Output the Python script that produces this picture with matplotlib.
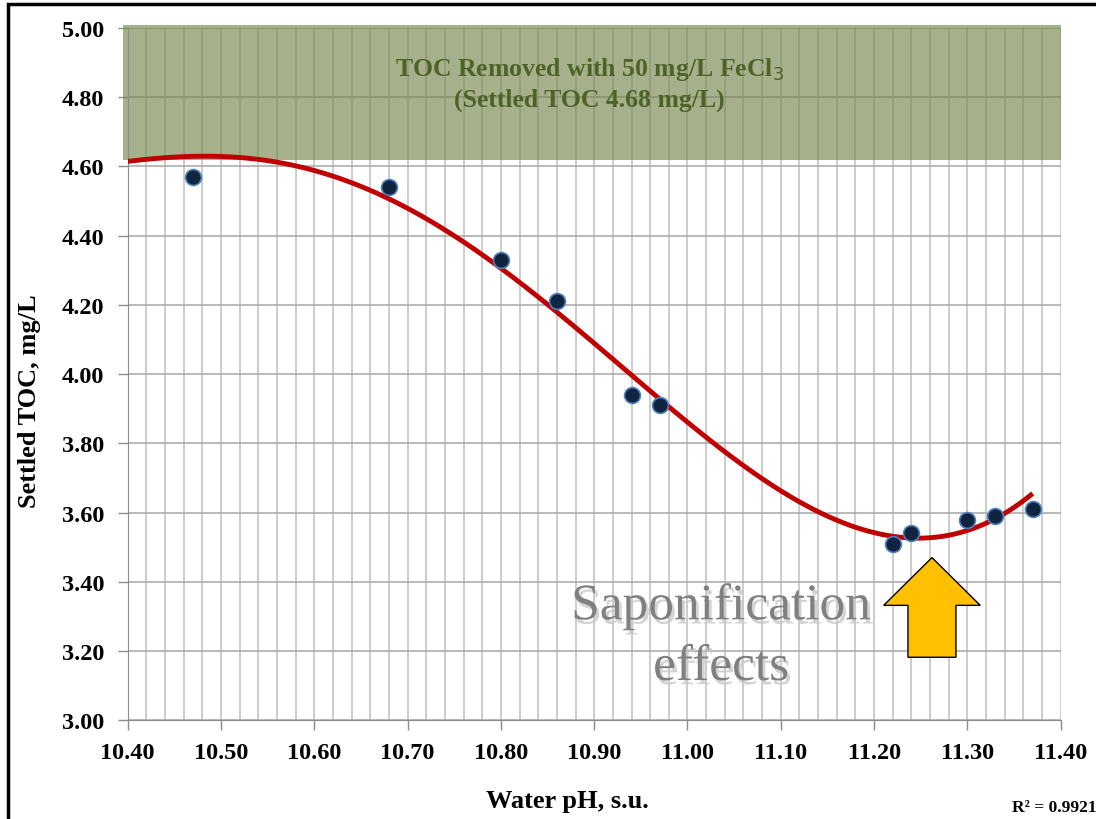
import numpy as np
import matplotlib
matplotlib.use("Agg")
import matplotlib.pyplot as plt
from matplotlib.patches import FancyArrow, Rectangle
import matplotlib.patheffects as pe

# measured points
ph = [10.47, 10.68, 10.80, 10.86, 10.94, 10.97, 11.22, 11.24, 11.30, 11.33, 11.37]
toc = [4.57, 4.54, 4.33, 4.21, 3.94, 3.91, 3.51, 3.54, 3.58, 3.59, 3.61]

# trendline (polynomial trendline, R2 0.9921)
trend_ph = [10.40, 10.49, 10.58, 10.68, 10.74, 10.80, 10.86, 10.92, 10.98,
            11.04, 11.10, 11.16, 11.22, 11.25, 11.30, 11.33, 11.37]
trend_toc = [4.614, 4.633, 4.597, 4.511, 4.410, 4.308, 4.190, 4.043, 3.889,
             3.778, 3.673, 3.581, 3.528, 3.518, 3.552, 3.587, 3.653]
trend_order = 5

fecl3_toc = 4.62   # lower edge of the shaded band
r2_text = "R\u00b2 = 0.9921"

plt.rcParams['font.family'] = ['Liberation Serif', 'DejaVu Serif']

fig = plt.figure(figsize=(10.96, 8.20), dpi=100)
ax = fig.add_axes([0.1165, 0.1204, 0.8513, 0.8442])

coef = np.polyfit(trend_ph, trend_toc, trend_order)
xs = np.linspace(trend_ph[0], trend_ph[-1], 300)
ax.plot(xs, np.polyval(coef, xs), color='#c00000', lw=3.5, zorder=4,
        solid_capstyle='butt')

ax.scatter(ph, toc, s=130, color='#10243f', edgecolor='#4f81bd', lw=1.2, zorder=5)

# shaded band
ax.axhspan(fecl3_toc, 5.01, xmin=-0.005, color='#76884f', alpha=0.65, lw=0,
           zorder=2, clip_on=False)
ax.text(10.895, 4.842, "TOC Removed with 50 mg/L FeCl$_3$\n(Settled TOC 4.68 mg/L)",
        ha='center', va='center', fontsize=18.5, fontweight='bold', color='#4f6228',
        linespacing=1.3, zorder=3)

# arrow
ax.add_patch(FancyArrow(11.262, 3.182, 0, 0.288, width=0.0514, head_width=0.1035,
                        head_length=0.138, length_includes_head=True,
                        facecolor='#ffc000', edgecolor='black', lw=1, zorder=6))

ax.text(11.036, 3.24, "Saponification\neffects", ha='center', va='center',
        fontsize=37, color='#808080', linespacing=1.4, zorder=6,
        path_effects=[pe.withSimplePatchShadow(offset=(2, -3), shadow_rgbFace='#c8c8c8', alpha=0.8)])

ax.set_xlim(10.40, 11.40)
ax.set_ylim(3.00, 5.00)
ax.set_xticks(np.arange(10.40, 11.401, 0.1))
ax.set_xticks(np.arange(10.40, 11.401, 0.02), minor=True)
ax.set_yticks(np.arange(3.0, 5.001, 0.2))
ax.xaxis.set_major_formatter(matplotlib.ticker.FormatStrFormatter('%.2f'))
ax.yaxis.set_major_formatter(matplotlib.ticker.FormatStrFormatter('%.2f'))

ax.grid(True, which='both', axis='x', color='#bfbfbf', lw=1.1, zorder=0)
ax.grid(True, which='major', axis='y', color='#a6a6a6', lw=1.1, zorder=0)
ax.set_axisbelow(True)

for s in ['top', 'right']:
    ax.spines[s].set_visible(False)
for s in ['left', 'bottom']:
    ax.spines[s].set_color('#8c8c8c')
ax.tick_params(axis='both', which='major', direction='out', color='#8c8c8c',
               labelsize=17.5, length=7, width=1)
ax.tick_params(axis='x', which='minor', length=0)
ax.tick_params(axis='x', pad=9)
ax.tick_params(axis='y', pad=10)
for lab in ax.get_xticklabels() + ax.get_yticklabels():
    lab.set_fontweight('bold')

ax.set_xlabel("Water pH, s.u.", fontsize=19, fontweight='bold', va='center')
ax.set_ylabel("Settled TOC, mg/L", fontsize=19, fontweight='bold', va='center')
ax.xaxis.set_label_coords(0.471, -0.116)
ax.yaxis.set_label_coords(-0.1047, 0.463)

fig.text(0.923, 0.0146, r2_text, fontsize=12.5, fontweight='bold', ha='left', va='center')

# outer chart frame
fig.patches.append(Rectangle((0.0073, -0.05), 1.1, 1.05 - 0.0061, transform=fig.transFigure,
                             fill=False, edgecolor='black', lw=2.5, clip_on=False))

fig.savefig("out.png", dpi=100)
